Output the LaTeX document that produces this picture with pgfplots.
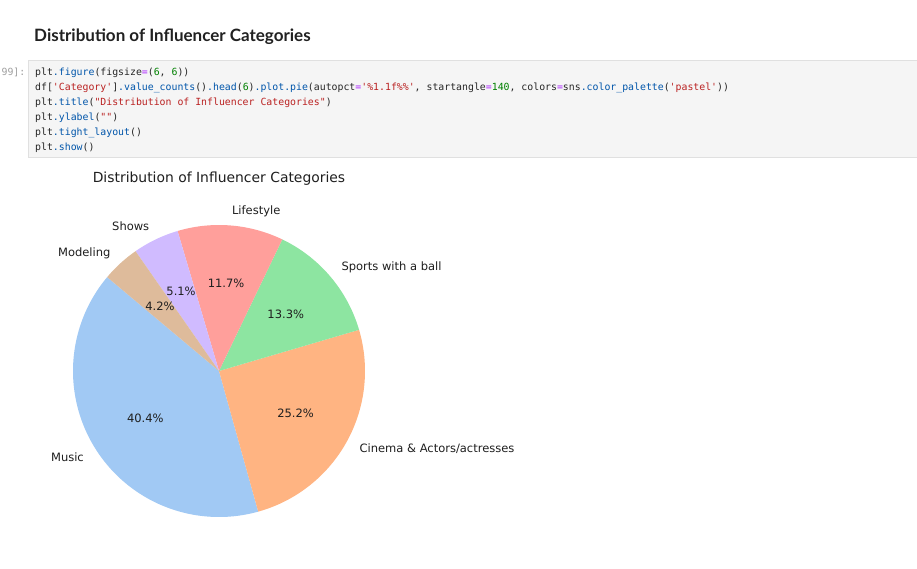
\documentclass[border=0pt]{standalone}
\usepackage{pgfplots}
\pgfplotsset{compat=1.18}
\usepackage{pgfplotstable}
\usepackage{fontspec}
\setmainfont{DejaVu Sans}
\newfontfamily\dv{DejaVu Sans}
\newfontfamily\hdr{Lato}
\newfontfamily\code{DejaVu Sans Mono}

\definecolor{pBlue}{HTML}{A1C9F4}
\definecolor{pOrange}{HTML}{FFB482}
\definecolor{pGreen}{HTML}{8DE5A1}
\definecolor{pRed}{HTML}{FF9F9B}
\definecolor{pPurple}{HTML}{D0BBFF}
\definecolor{pBrown}{HTML}{DEBB9B}
\definecolor{cellbg}{HTML}{F5F5F5}
\definecolor{cellbd}{HTML}{E0E0E0}
\definecolor{cmBlue}{HTML}{0055AA}
\definecolor{cmPurple}{HTML}{AA22FF}
\definecolor{cmGreen}{HTML}{008000}
\definecolor{cmRed}{HTML}{BA2121}
\definecolor{txt}{HTML}{212121}
\definecolor{prompt}{HTML}{9E9E9E}

\newcommand\cBlu[1]{\textcolor{cmBlue}{#1}}
\newcommand\cPur[1]{\textcolor{cmPurple}{#1}}
\newcommand\cGrn[1]{\textcolor{cmGreen}{#1}}
\newcommand\cRed[1]{\textcolor{cmRed}{#1}}
\newcommand\q{\textquotesingle}
\newcommand\qq{\textquotedbl}

\tikzset{lbl/.style={inner sep=0, text=black!88, font=\dv\fontsize{11.5}{13}\selectfont, text height=10.4pt, text depth=2.65pt}}

\pgfplotstableread{
cat pct
Music 40.4
Cinema 25.2
Sports 13.3
Lifestyle 11.7
Shows 5.1
Modeling 4.2
}\pietable

\begin{document}
\begin{tikzpicture}[x=1pt,y=-1pt]
\pgfplotstablegetelem{0}{pct}\of\pietable \let\pA\pgfplotsretval
\pgfplotstablegetelem{1}{pct}\of\pietable \let\pB\pgfplotsretval
\pgfplotstablegetelem{2}{pct}\of\pietable \let\pC\pgfplotsretval
\pgfplotstablegetelem{3}{pct}\of\pietable \let\pD\pgfplotsretval
\pgfplotstablegetelem{4}{pct}\of\pietable \let\pE\pgfplotsretval
\pgfplotstablegetelem{5}{pct}\of\pietable \let\pF\pgfplotsretval
\pgfmathsetmacro\tot{\pA+\pB+\pC+\pD+\pE+\pF}
\pgfmathsetmacro\aO{140}
\pgfmathsetmacro\aA{\aO+360*\pA/\tot}
\pgfmathsetmacro\aB{\aA+360*\pB/\tot}
\pgfmathsetmacro\aC{\aB+360*\pC/\tot}
\pgfmathsetmacro\aD{\aC+360*\pD/\tot}
\pgfmathsetmacro\aE{\aD+360*\pE/\tot}
\pgfmathsetmacro\aF{\aE+360*\pF/\tot}
\pgfmathsetmacro\mA{(\aO+\aA)/2}
\pgfmathsetmacro\mB{(\aA+\aB)/2}
\pgfmathsetmacro\mC{(\aB+\aC)/2}
\pgfmathsetmacro\mD{(\aC+\aD)/2}
\pgfmathsetmacro\mE{(\aD+\aE)/2}
\pgfmathsetmacro\mF{(\aE+\aF)/2}

\fill[white] (0,0) rectangle (917,569);

% notebook header
\node[anchor=base west, inner sep=0, text=txt, font=\hdr\bfseries\fontsize{17}{20}\selectfont] at (34,42) {Distribution of Influencer Categories};

% code cell
\draw[cellbd, fill=cellbg, line width=1pt] (28.5,60.5) rectangle (935,157.5);
\node[anchor=base east, inner sep=0, text=prompt, font=\code\fontsize{9.85}{12}\selectfont] at (25.5,75.5) {99]:};
\begin{scope}[every node/.style={anchor=base west, inner sep=0, text=black!85, font=\code\fontsize{9.85}{12}\selectfont}]
\node at (35,75.5) {plt\cBlu{.figure}(figsize\cPur{=}(\cGrn{6}, \cGrn{6}))};
\node at (35,90.5) {df[\cRed{\q Category\q}]\cBlu{.value\_counts}()\cBlu{.head}(\cGrn{6})\cBlu{.plot.pie}(autopct\cPur{=}\cRed{\q\%1.1f\%\%\q}, startangle\cPur{=}\cGrn{140}, colors\cPur{=}sns\cBlu{.color\_palette}(\cRed{\q pastel\q}))};
\node at (35,105.5) {plt\cBlu{.title}(\cRed{\qq Distribution of Influencer Categories\qq})};
\node at (35,120.5) {plt\cBlu{.ylabel}(\cRed{\qq\qq})};
\node at (35,135.5) {plt\cBlu{.tight\_layout}()};
\node at (35,150.5) {plt\cBlu{.show}()};
\end{scope}

% chart title
\node[anchor=base, inner sep=0, text=black!88, font=\dv\fontsize{13.9}{16}\selectfont] at (219,183) {Distribution of Influencer Categories};

\begin{axis}[
  hide axis, scale only axis,
  x=146pt, y=146pt,
  xmin=-1.5, xmax=1.5, ymin=-1.5, ymax=1.5,
  anchor=center, at={(219pt,-371pt)},
  clip=false,
]
\addplot[fill=pBlue, draw=none, domain=\aO:\aA, samples=120, variable=\t] ({cos(\t)},{sin(\t)}) -- (axis cs:0,0) -- cycle;
\addplot[fill=pOrange, draw=none, domain=\aA:\aB, samples=80, variable=\t] ({cos(\t)},{sin(\t)}) -- (axis cs:0,0) -- cycle;
\addplot[fill=pGreen, draw=none, domain=\aB:\aC, samples=50, variable=\t] ({cos(\t)},{sin(\t)}) -- (axis cs:0,0) -- cycle;
\addplot[fill=pRed, draw=none, domain=\aC:\aD, samples=50, variable=\t] ({cos(\t)},{sin(\t)}) -- (axis cs:0,0) -- cycle;
\addplot[fill=pPurple, draw=none, domain=\aD:\aE, samples=30, variable=\t] ({cos(\t)},{sin(\t)}) -- (axis cs:0,0) -- cycle;
\addplot[fill=pBrown, draw=none, domain=\aE:\aF, samples=30, variable=\t] ({cos(\t)},{sin(\t)}) -- (axis cs:0,0) -- cycle;

% category labels at 1.1 r
\node[lbl, anchor=east] at (axis cs:{1.1*cos(\mA)},{1.1*sin(\mA)}) {Music};
\node[lbl, anchor=west] at (axis cs:{1.1*cos(\mB)},{1.1*sin(\mB)}) {Cinema \& Actors/actresses};
\node[lbl, anchor=west] at (axis cs:{1.1*cos(\mC)},{1.1*sin(\mC)}) {Sports with a ball};
\node[lbl, anchor=west] at (axis cs:{1.1*cos(\mD)},{1.1*sin(\mD)}) {Lifestyle};
\node[lbl, anchor=east] at (axis cs:{1.1*cos(\mE)},{1.1*sin(\mE)}) {Shows};
\node[lbl, anchor=east] at (axis cs:{1.1*cos(\mF)},{1.1*sin(\mF)}) {Modeling};

% percentages at 0.6 r
\node[lbl, anchor=center] at (axis cs:{0.6*cos(\mA)},{0.6*sin(\mA)}) {40.4\%};
\node[lbl, anchor=center] at (axis cs:{0.6*cos(\mB)},{0.6*sin(\mB)}) {25.2\%};
\node[lbl, anchor=center] at (axis cs:{0.6*cos(\mC)},{0.6*sin(\mC)}) {13.3\%};
\node[lbl, anchor=center] at (axis cs:{0.6*cos(\mD)},{0.6*sin(\mD)}) {11.7\%};
\node[lbl, anchor=center] at (axis cs:{0.6*cos(\mE)},{0.6*sin(\mE)}) {5.1\%};
\node[lbl, anchor=center] at (axis cs:{0.6*cos(\mF)},{0.6*sin(\mF)}) {4.2\%};
\end{axis}

\pgfresetboundingbox
\useasboundingbox (0,0) rectangle (917,569);
\end{tikzpicture}
\end{document}
